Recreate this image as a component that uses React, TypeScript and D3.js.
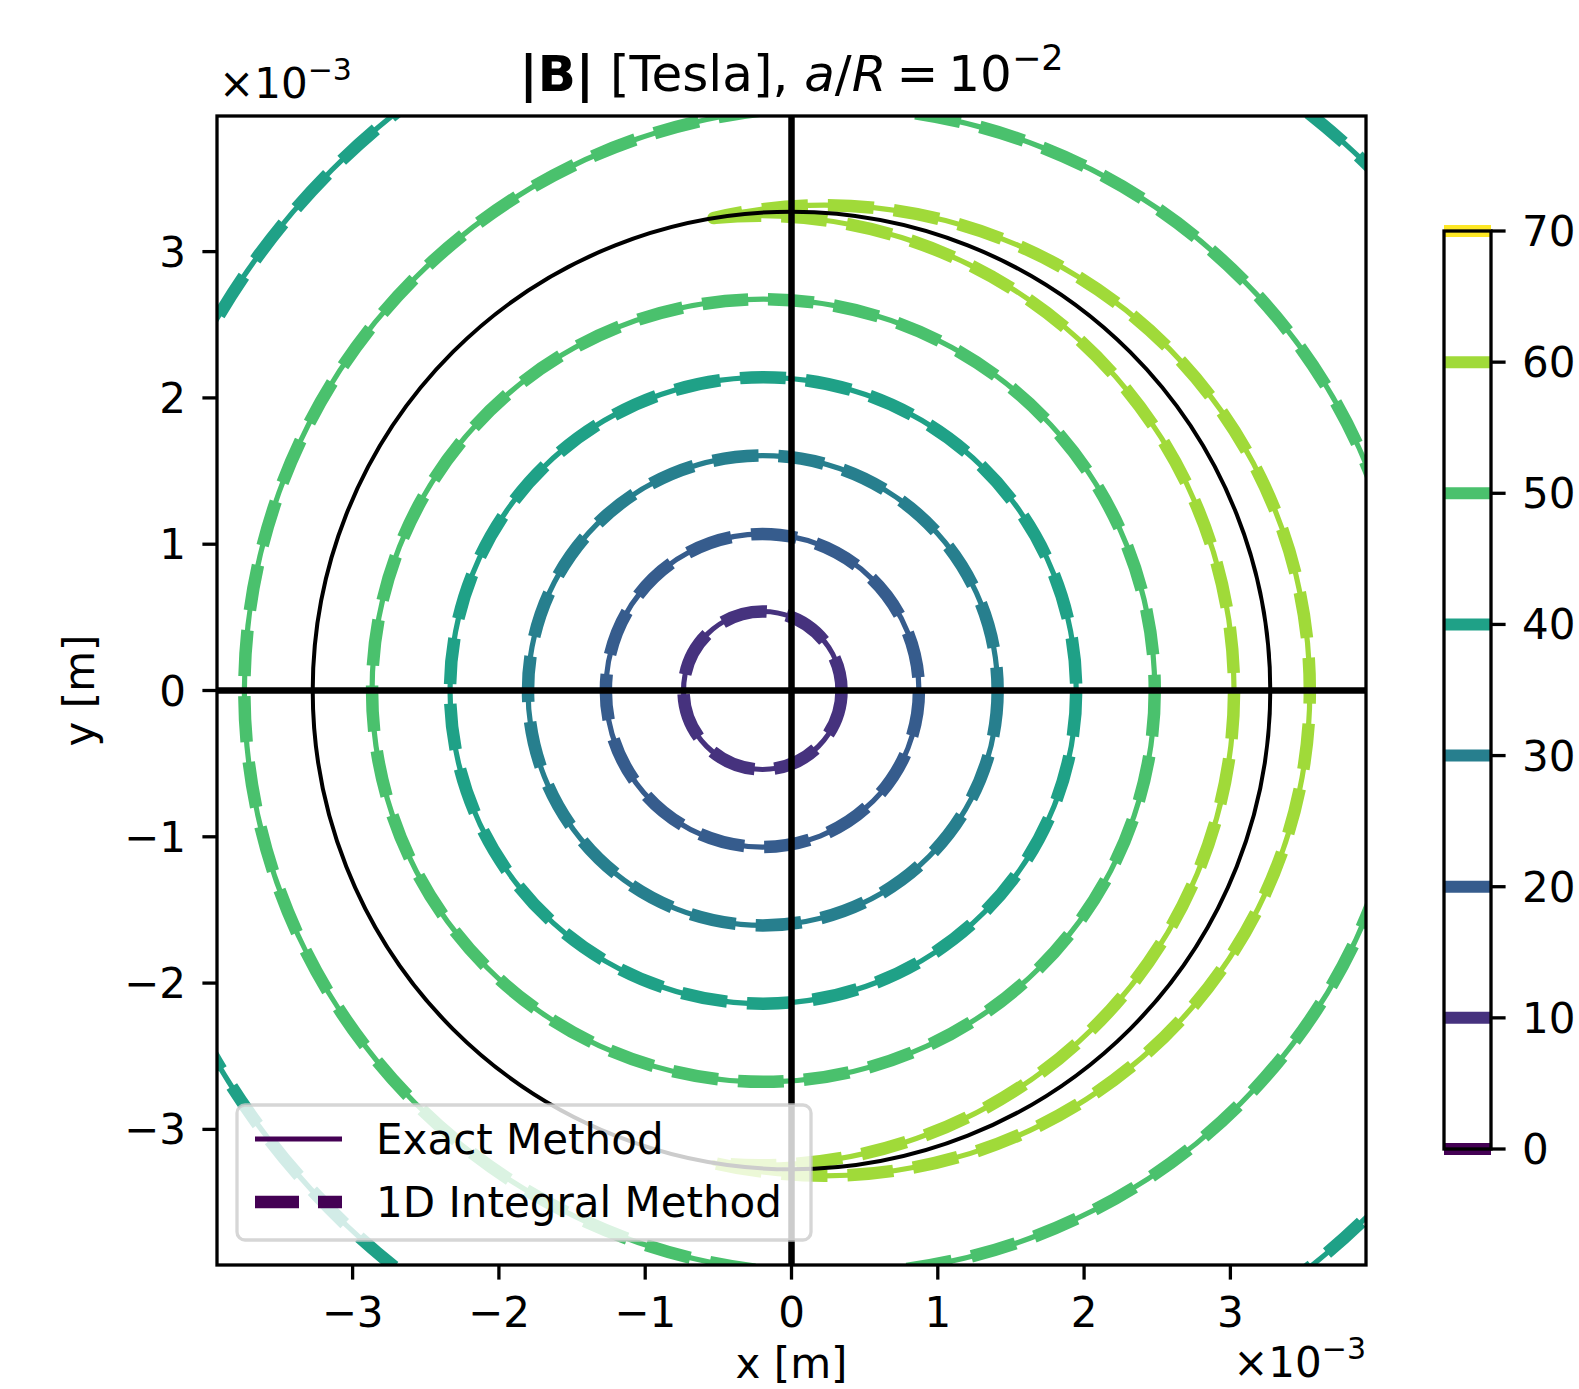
import { useEffect, useRef } from 'react'
import * as d3 from 'd3'

// all lengths in units of 1e-3 m
const wireRadius = 3.2727
const axisLimit = 3.927

// colorbar levels (Tesla)
const levels = [0, 10, 20, 30, 40, 50, 60, 70]

// contours inside the conductor: roughly circles, shifted left
const innerLevels = [10, 20, 30, 40, 50, 60]
const innerCx = [-0.198, -0.199, -0.196, -0.194, -0.192, -0.22]
const innerR = [0.54, 1.07, 1.605, 2.14, 2.675, 3.245]

// contours outside the conductor: circles shifted right
const outerLevels = [40, 50, 60]
const outerCx = [0.415, 0.25, 0.226]
const outerR = [5.03, 3.99, 3.317]

const xTicks = [-3, -2, -1, 0, 1, 2, 3]
const yTicks = [-3, -2, -1, 0, 1, 2, 3]

const legendLabels = ['Exact Method', '1D Integral Method']

const fmt = (v: number) => (v < 0 ? '\u2212' + Math.abs(v) : String(v))

export default function App() {
  const svgRef = useRef<SVGSVGElement | null>(null)

  useEffect(() => {
    if (!svgRef.current) return
    const svg = d3.select(svgRef.current)
    svg.selectAll('*').remove()

    const font = 'DejaVu Sans'
    const left = 217
    const top = 116
    const size = 1149

    const x = d3.scaleLinear().domain([-axisLimit, axisLimit]).range([left, left + size])
    const y = d3.scaleLinear().domain([-axisLimit, axisLimit]).range([top + size, top])
    const k = x(1) - x(0)
    const color = (v: number) => d3.interpolateViridis(v / 70)

    svg.append('rect').attr('width', 1579).attr('height', 1389).attr('fill', '#fff')

    svg
      .append('defs')
      .append('clipPath')
      .attr('id', 'plot-clip')
      .append('rect')
      .attr('x', left)
      .attr('y', top)
      .attr('width', size)
      .attr('height', size)

    const plot = svg.append('g').attr('clip-path', 'url(#plot-clip)')

    // build contour paths per level
    type Contour = { level: number; d: string }
    const contours: Contour[] = []
    const a = wireRadius
    innerLevels.forEach((lv, i) => {
      const c1 = innerCx[i]
      const r1 = innerR[i]
      const oi = outerLevels.indexOf(lv)
      if (Math.abs(c1) + r1 > a && oi >= 0) {
        // crescent: inner arc inside conductor joined with outer arc outside
        const c2 = outerCx[oi]
        const r2 = outerR[oi]
        const xi = (c1 * c1 - r1 * r1 + a * a) / (2 * c1)
        const t1 = Math.atan2(Math.sqrt(a * a - xi * xi), xi - c1)
        const xo = (c2 * c2 - r2 * r2 + a * a) / (2 * c2)
        const t2 = Math.atan2(Math.sqrt(a * a - xo * xo), xo - c2)
        const p = d3.path()
        p.arc(x(c1), y(0), r1 * k, -t1, t1, false)
        p.arc(x(c2), y(0), r2 * k, t2, -t2, true)
        p.closePath()
        contours.push({ level: lv, d: p.toString() })
      } else {
        const p = d3.path()
        p.moveTo(x(c1) + r1 * k, y(0))
        p.arc(x(c1), y(0), r1 * k, 0, 2 * Math.PI)
        p.closePath()
        contours.push({ level: lv, d: p.toString() })
      }
    })
    outerLevels.forEach((lv, i) => {
      const c2 = outerCx[i]
      const r2 = outerR[i]
      if (r2 - Math.abs(c2) > a) {
        const p = d3.path()
        p.moveTo(x(c2) + r2 * k, y(0))
        p.arc(x(c2), y(0), r2 * k, 0, 2 * Math.PI)
        p.closePath()
        contours.push({ level: lv, d: p.toString() })
      }
    })

    // exact method: thin solid
    plot
      .selectAll('path.exact')
      .data(contours)
      .enter()
      .append('path')
      .attr('class', 'exact')
      .attr('d', d => d.d)
      .attr('fill', 'none')
      .attr('stroke', d => color(d.level))
      .attr('stroke-width', 5.2)
      .attr('stroke-linejoin', 'round')

    // 1D integral method: thick dashed
    plot
      .selectAll('path.integral')
      .data(contours)
      .enter()
      .append('path')
      .attr('class', 'integral')
      .attr('d', d => d.d)
      .attr('fill', 'none')
      .attr('stroke', d => color(d.level))
      .attr('stroke-width', 12.5)
      .attr('stroke-dasharray', '46 20')
      .attr('stroke-linejoin', 'round')

    // conductor boundary
    plot
      .append('circle')
      .attr('cx', x(0))
      .attr('cy', y(0))
      .attr('r', wireRadius * k)
      .attr('fill', 'none')
      .attr('stroke', '#000')
      .attr('stroke-width', 4)

    // axis lines through origin
    plot
      .append('line')
      .attr('x1', left)
      .attr('x2', left + size)
      .attr('y1', y(0))
      .attr('y2', y(0))
      .attr('stroke', '#000')
      .attr('stroke-width', 6.5)
    plot
      .append('line')
      .attr('x1', x(0))
      .attr('x2', x(0))
      .attr('y1', top)
      .attr('y2', top + size)
      .attr('stroke', '#000')
      .attr('stroke-width', 6.5)

    // legend
    const lg = svg.append('g')
    lg.append('rect')
      .attr('x', 237)
      .attr('y', 1105)
      .attr('width', 574)
      .attr('height', 135)
      .attr('rx', 8)
      .attr('fill', '#fff')
      .attr('fill-opacity', 0.8)
      .attr('stroke', '#ccc')
      .attr('stroke-opacity', 0.8)
      .attr('stroke-width', 3.3)
    legendLabels.forEach((label, i) => {
      const cy = 1139 + i * 63
      lg.append('line')
        .attr('x1', 255)
        .attr('x2', 342)
        .attr('y1', cy)
        .attr('y2', cy)
        .attr('stroke', color(0))
        .attr('stroke-width', i === 0 ? 5.2 : 12.5)
        .attr('stroke-dasharray', i === 0 ? null : '44 19')
      lg.append('text')
        .attr('x', 376)
        .attr('y', cy + 15)
        .attr('font-family', font)
        .attr('font-size', 42)
        .text(label)
    })

    // frame
    svg
      .append('rect')
      .attr('x', left)
      .attr('y', top)
      .attr('width', size)
      .attr('height', size)
      .attr('fill', 'none')
      .attr('stroke', '#000')
      .attr('stroke-width', 3.3)

    // x ticks
    const xt = svg.append('g')
    xTicks.forEach(t => {
      xt.append('line')
        .attr('x1', x(t))
        .attr('x2', x(t))
        .attr('y1', top + size)
        .attr('y2', top + size + 14.6)
        .attr('stroke', '#000')
        .attr('stroke-width', 3.3)
      xt.append('text')
        .attr('x', x(t))
        .attr('y', 1327)
        .attr('text-anchor', 'middle')
        .attr('font-family', font)
        .attr('font-size', 42)
        .text(fmt(t))
    })

    // y ticks
    const yt = svg.append('g')
    yTicks.forEach(t => {
      yt.append('line')
        .attr('x1', left)
        .attr('x2', left - 14.6)
        .attr('y1', y(t))
        .attr('y2', y(t))
        .attr('stroke', '#000')
        .attr('stroke-width', 3.3)
      yt.append('text')
        .attr('x', 186)
        .attr('y', y(t) + 15)
        .attr('text-anchor', 'end')
        .attr('font-family', font)
        .attr('font-size', 42)
        .text(fmt(t))
    })

    // offset texts (×10^-3)
    const offset = (px: number, py: number, anchor: string) => {
      const t = svg
        .append('text')
        .attr('x', px)
        .attr('y', py)
        .attr('text-anchor', anchor)
        .attr('font-family', font)
        .attr('font-size', 42)
      t.append('tspan').text('\u00d710')
      t.append('tspan').attr('dy', -18).attr('font-size', 30).text('\u22123')
    }
    offset(219, 98, 'start')
    offset(1366, 1377, 'end')

    // axis labels
    svg
      .append('text')
      .attr('x', x(0))
      .attr('y', 1378)
      .attr('text-anchor', 'middle')
      .attr('font-family', font)
      .attr('font-size', 42)
      .text('x [m]')
    svg
      .append('text')
      .attr('transform', `translate(94, ${y(0)}) rotate(-90)`)
      .attr('text-anchor', 'middle')
      .attr('font-family', font)
      .attr('font-size', 42)
      .text('y [m]')

    // title
    const title = svg
      .append('text')
      .attr('x', x(0))
      .attr('y', 91)
      .attr('text-anchor', 'middle')
      .attr('font-family', font)
      .attr('font-size', 50)
    title.append('tspan').attr('font-weight', 'bold').text('|B|')
    title.append('tspan').text(' [Tesla], ')
    title.append('tspan').attr('font-style', 'italic').text('a')
    title.append('tspan').text('/')
    title.append('tspan').attr('font-style', 'italic').text('R')
    title.append('tspan').text('\u2009=\u200910')
    title.append('tspan').attr('dy', -21).attr('font-size', 35).text('\u22122')

    // colorbar
    const cbLeft = 1444
    const cbRight = 1491
    const cb = d3.scaleLinear().domain([0, 70]).range([1149, 231])
    const cbg = svg.append('g')
    cbg
      .selectAll('line.lvl')
      .data(levels)
      .enter()
      .append('line')
      .attr('class', 'lvl')
      .attr('x1', cbLeft)
      .attr('x2', cbRight)
      .attr('y1', d => cb(d))
      .attr('y2', d => cb(d))
      .attr('stroke', d => color(d))
      .attr('stroke-width', 12)
    cbg
      .append('rect')
      .attr('x', cbLeft)
      .attr('y', cb(70))
      .attr('width', cbRight - cbLeft)
      .attr('height', cb(0) - cb(70))
      .attr('fill', 'none')
      .attr('stroke', '#000')
      .attr('stroke-width', 3.3)
    levels.forEach(v => {
      cbg
        .append('line')
        .attr('x1', cbRight)
        .attr('x2', cbRight + 14.6)
        .attr('y1', cb(v))
        .attr('y2', cb(v))
        .attr('stroke', '#000')
        .attr('stroke-width', 3.3)
      cbg
        .append('text')
        .attr('x', 1522)
        .attr('y', cb(v) + 15)
        .attr('font-family', font)
        .attr('font-size', 42)
        .text(String(v))
    })
  }, [])

  return (
    <svg
      ref={svgRef}
      width={1579}
      height={1389}
      style={{ position: 'absolute', left: 0, top: 0, display: 'block' }}
    ></svg>
  )
}
